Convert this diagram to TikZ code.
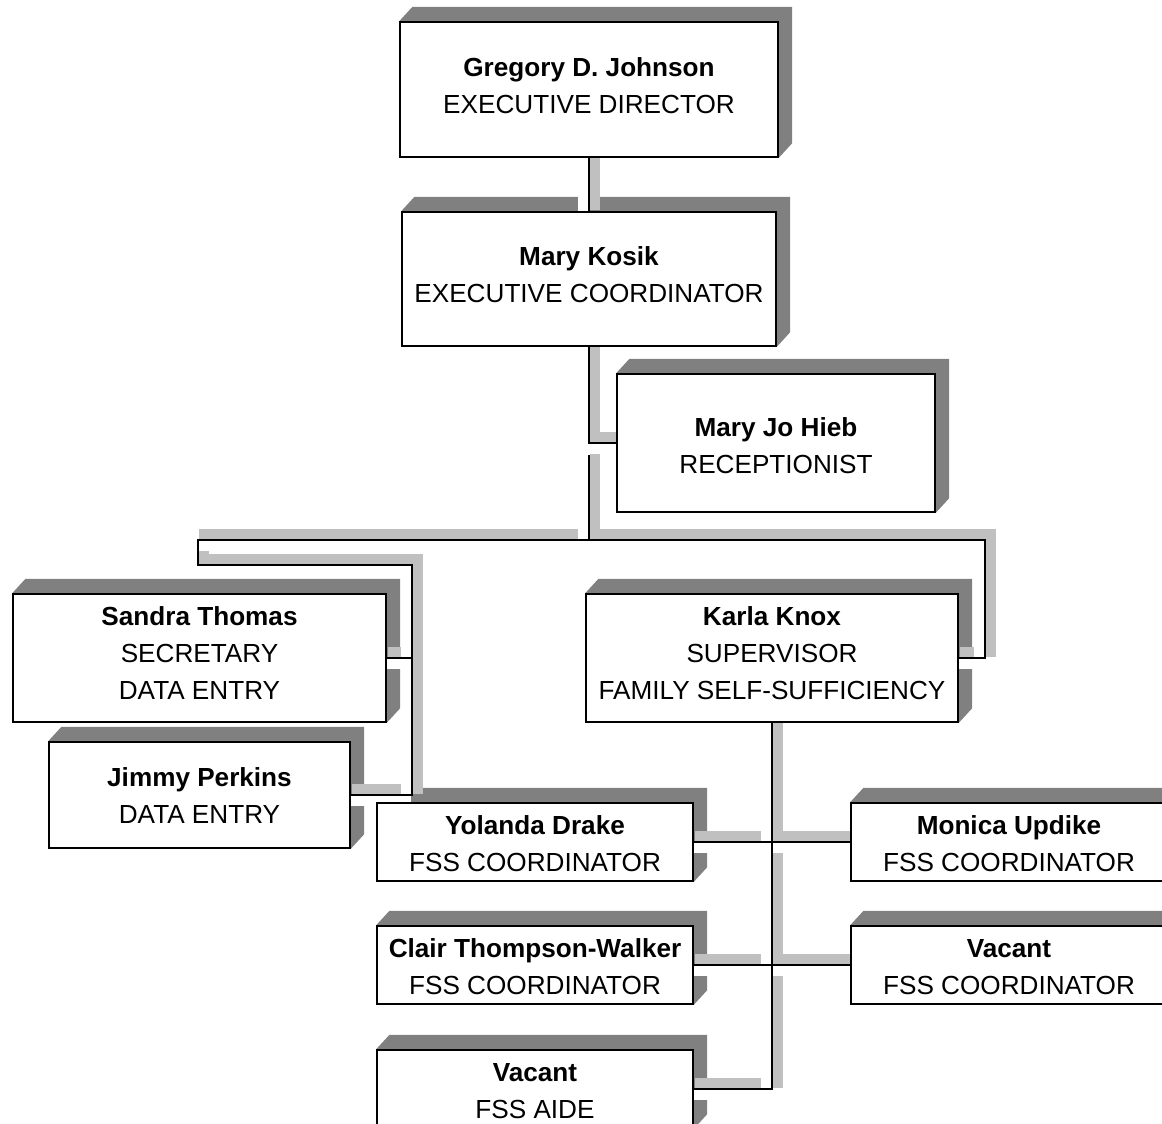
\documentclass[tikz,border=0pt]{standalone}
\usepackage{fontspec}
\setmainfont{Liberation Sans}
\usepackage{xcolor}
\usepackage{tikz}

\pgfdeclarelayer{shadows}
\pgfdeclarelayer{pipes}
\pgfsetlayers{shadows,pipes,main}

\definecolor{boxshade}{HTML}{808080}
\definecolor{pipeshade}{HTML}{C0C0C0}

% centred lines, lifted inside the box by #1
\newcommand{\orgtext}[2]{\raisebox{#1}[\height][\depth]{\begin{tabular}{@{}c@{}}#2\end{tabular}}}

\begin{document}
\begin{tikzpicture}[
        orgbox/.style={
            draw=black,
            line width=0.4mm,
            fill=white,
            inner sep=0pt,
            font=\fontsize{18.6}{26.3}\selectfont
        },
        wire/.style={
            draw=black,
            line width=0.5mm
        },
        pipebed/.style={
            preaction={draw=pipeshade, line width=2.5mm, line cap=rect,
                transform canvas={shift={(1.5mm,1.5mm)}}},
            preaction={draw=white, line width=2.5mm, line cap=rect,
                transform canvas={shift={(-1.5mm,-1.5mm)}}}
        }
    ]

                \useasboundingbox (0,0) rectangle (29.05,-28.075);

                \node[orgbox, minimum width=9.45cm, minimum height=3.375cm]
                    (greg) at (14.725,-2.2375) {\orgtext{0.05cm}{\textbf{Gregory D. Johnson}\\EXECUTIVE DIRECTOR}};
                \node[orgbox, minimum width=9.35cm, minimum height=3.35cm]
                    (kosik) at (14.725,-6.975) {\orgtext{0.05cm}{\textbf{Mary Kosik}\\EXECUTIVE COORDINATOR}};
                \node[orgbox, minimum width=7.95cm, minimum height=3.45cm]
                    (hieb) at (19.4,-11.075) {\orgtext{-0.12cm}{\textbf{Mary Jo Hieb}\\RECEPTIONIST}};

                \node[orgbox, minimum width=9.325cm, minimum height=3.2cm]
                    (sandra) at (4.9875,-16.45) {\orgtext{0.075cm}{\textbf{Sandra Thomas}\\SECRETARY\\DATA ENTRY}};
                \node[orgbox, minimum width=7.525cm, minimum height=2.65cm]
                    (jimmy) at (4.9875,-19.875) {\orgtext{-0.07cm}{\textbf{Jimmy Perkins}\\DATA ENTRY}};
                \node[orgbox, minimum width=9.3cm, minimum height=3.2cm]
                    (karla) at (19.3,-16.45) {\orgtext{0.075cm}{\textbf{Karla Knox}\\SUPERVISOR\\FAMILY SELF-SUFFICIENCY}};

                \node[orgbox, minimum width=7.9cm, minimum height=1.95cm]
                    (yolanda) at (13.375,-21.05) {\orgtext{-0.1cm}{\textbf{Yolanda Drake}\\FSS COORDINATOR}};
                \node[orgbox, minimum width=7.9cm, minimum height=1.95cm]
                    (clair) at (13.375,-24.125) {\orgtext{-0.1cm}{\textbf{Clair Thompson-Walker}\\FSS COORDINATOR}};
                \node[orgbox, minimum width=7.9cm, minimum height=1.95cm]
                    (aide) at (13.375,-27.225) {\orgtext{-0.1cm}{\textbf{Vacant}\\FSS AIDE}};
                \node[orgbox, minimum width=7.9cm, minimum height=1.95cm]
                    (monica) at (25.225,-21.05) {\orgtext{-0.1cm}{\textbf{Monica Updike}\\FSS COORDINATOR}};
                \node[orgbox, minimum width=7.9cm, minimum height=1.95cm]
                    (vacant) at (25.225,-24.125) {\orgtext{-0.1cm}{\textbf{Vacant}\\FSS COORDINATOR}};

                % bends of the bus under Mary Kosik
                \coordinate (busw) at (4.95,-13.5);
                \coordinate (stafftop) at (10.3,-14.125);
                \coordinate (buse) at (24.625,-13.5);
                \coordinate (hiebcut) at ([yshift=-0.3cm]kosik.south |- hieb.west);

                \begin{pgfonlayer}{shadows}
                    \foreach \who in {greg,kosik,hieb,sandra,jimmy,karla,yolanda,clair,aide,monica,vacant}
                        \fill[boxshade] (\who.north west) -- ++(0.33,0.36)
                            -- ([shift={(0.33,0.36)}]\who.north east)
                            -- ([shift={(0.33,0.36)}]\who.south east)
                            -- (\who.south east) -- (\who.south west) -- cycle;
                \end{pgfonlayer}

                \begin{pgfonlayer}{pipes}
                    % grey tops and white gaps first
                    \path[pipebed] (greg) -- (kosik);
                    \path[pipebed] (kosik.south) |- (busw) |- (stafftop) |- (jimmy.east);
                    \path[pipebed] (kosik.south) |- (busw) |- (stafftop) |- (sandra.east);
                    \path[pipebed] (kosik.south) |- (buse) |- (karla.east);
                    \path[pipebed] (kosik.south) |- (hieb.west);
                    \foreach \who/\side in {aide/east,vacant/west,clair/east,monica/west,yolanda/east}
                        \path[pipebed] (karla.south) |- (\who.\side);

                    % then the black lines
                    \draw[wire] (greg) -- (kosik);
                    \draw[wire] (kosik.south) |- (hieb.west);
                    \draw[wire] (hiebcut) |- (busw) |- (stafftop) |- (sandra.east);
                    \draw[wire] (hiebcut) |- (busw) |- (stafftop) |- (jimmy.east);
                    \draw[wire] (hiebcut) |- (buse) |- (karla.east);
                    \foreach \who/\side in {yolanda/east,monica/west,clair/east,vacant/west,aide/east}
                        \draw[wire] (karla.south) |- (\who.\side);
                \end{pgfonlayer}

\end{tikzpicture}
\end{document}
